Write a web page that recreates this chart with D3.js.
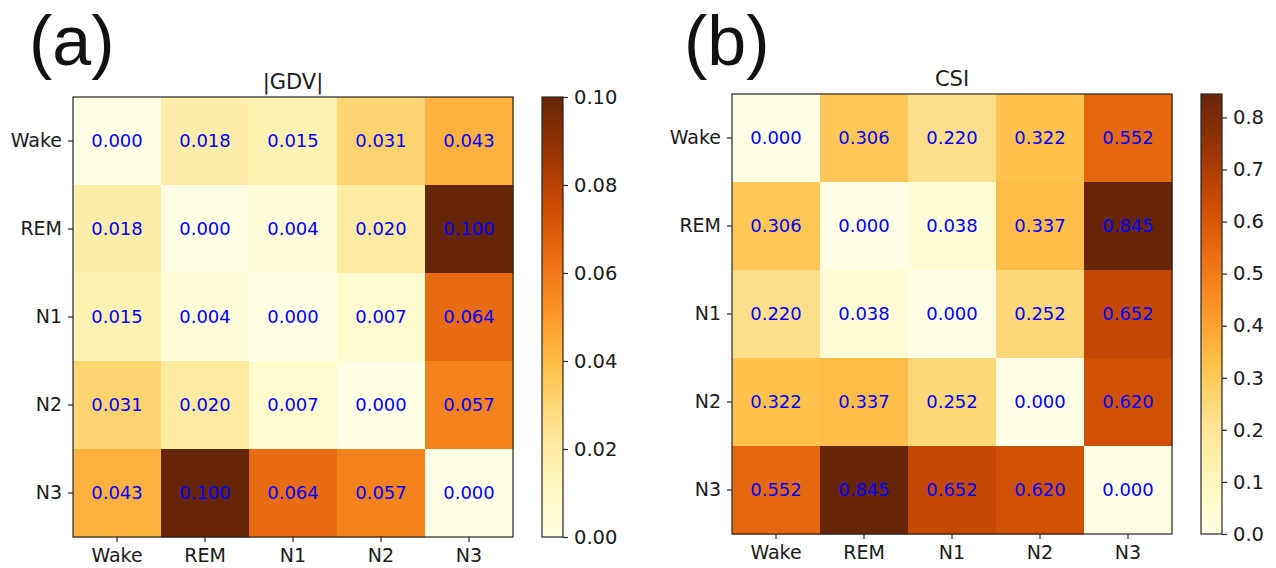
<!DOCTYPE html>
<html>
<head>
<meta charset="utf-8">
<script src="https://cdn.jsdelivr.net/npm/d3@7"></script>
<style>
  body { margin: 0; background: #fff; }
  text { font-family: "DejaVu Sans", sans-serif; }
</style>
</head>
<body>
<script>
var stages = ["Wake", "REM", "N1", "N2", "N3"];

var gdvValues = [
  [0.000, 0.018, 0.015, 0.031, 0.043],
  [0.018, 0.000, 0.004, 0.020, 0.100],
  [0.015, 0.004, 0.000, 0.007, 0.064],
  [0.031, 0.020, 0.007, 0.000, 0.057],
  [0.043, 0.100, 0.064, 0.057, 0.000]
];

var csiValues = [
  [0.000, 0.306, 0.220, 0.322, 0.552],
  [0.306, 0.000, 0.038, 0.337, 0.845],
  [0.220, 0.038, 0.000, 0.252, 0.652],
  [0.322, 0.337, 0.252, 0.000, 0.620],
  [0.552, 0.845, 0.652, 0.620, 0.000]
];

var gdvTicks = [0.00, 0.02, 0.04, 0.06, 0.08, 0.10];
var csiTicks = [0.0, 0.1, 0.2, 0.3, 0.4, 0.5, 0.6, 0.7, 0.8];

// matplotlib YlOrBr
var ylOrBr = ["#ffffe5", "#fff7bc", "#fee391", "#fec44f", "#fe9929",
              "#ec7014", "#cc4c02", "#993404", "#662506"];

var svg = d3.select("body").append("svg")
  .attr("width", 1276)
  .attr("height", 568);

function drawPanel(opts) {
  var g = svg.append("g");
  var x = d3.scaleBand().domain(stages).range([opts.left, opts.left + opts.size]);
  var y = d3.scaleBand().domain(stages).range([opts.top, opts.top + opts.size]);
  var vmax = opts.vmax;
  var color = d3.scaleLinear()
    .domain(ylOrBr.map(function(c, i) { return vmax * i / (ylOrBr.length - 1); }))
    .range(ylOrBr)
    .clamp(true);

  var cells = [];
  opts.values.forEach(function(row, i) {
    row.forEach(function(v, j) {
      cells.push({ row: stages[i], col: stages[j], v: v });
    });
  });

  g.selectAll("rect.cell").data(cells).enter().append("rect")
    .attr("class", "cell")
    .attr("x", function(d) { return x(d.col); })
    .attr("y", function(d) { return y(d.row); })
    .attr("width", x.bandwidth() + 0.5)
    .attr("height", y.bandwidth() + 0.5)
    .attr("fill", function(d) { return color(d.v); });

  g.selectAll("text.val").data(cells).enter().append("text")
    .attr("class", "val")
    .attr("x", function(d) { return x(d.col) + x.bandwidth() / 2; })
    .attr("y", function(d) { return y(d.row) + y.bandwidth() / 2; })
    .attr("dy", "0.36em")
    .attr("text-anchor", "middle")
    .attr("font-size", 18)
    .attr("fill", "#0000ff")
    .text(function(d) { return d.v.toFixed(3); });

  g.append("rect")
    .attr("x", opts.left).attr("y", opts.top)
    .attr("width", opts.size).attr("height", opts.size)
    .attr("fill", "none").attr("stroke", "#262626").attr("stroke-width", 1.2);

  var xAxis = g.append("g")
    .attr("transform", "translate(0," + (opts.top + opts.size) + ")")
    .call(d3.axisBottom(x).tickSize(5).tickPadding(7));
  var yAxis = g.append("g")
    .attr("transform", "translate(" + opts.left + ",0)")
    .call(d3.axisLeft(y).tickSize(5).tickPadding(6));
  [xAxis, yAxis].forEach(function(a) {
    a.select(".domain").remove();
    a.selectAll(".tick line").attr("stroke", "#262626").attr("stroke-width", 1.2);
    a.selectAll(".tick text").attr("font-size", 19).attr("fill", "#1a1a1a")
      .attr("font-family", "DejaVu Sans, sans-serif");
  });

  g.append("text")
    .attr("x", opts.left + opts.size / 2)
    .attr("y", opts.top - 8)
    .attr("text-anchor", "middle")
    .attr("font-size", 21)
    .attr("fill", "#1a1a1a")
    .text(opts.title);

  g.append("text")
    .attr("x", opts.labelX)
    .attr("y", 65)
    .attr("font-size", 70)
    .attr("fill", "#111")
    .style("font-family", "'Liberation Sans', Arial, sans-serif")
    .text(opts.label);

  // colorbar
  var cbX = opts.cbLeft, cbW = 21;
  var cy = d3.scaleLinear().domain([0, vmax]).range([opts.top + opts.size, opts.top]);
  var defs = svg.append("defs");
  var gradId = "grad" + opts.label.replace(/\W/g, "");
  var grad = defs.append("linearGradient").attr("id", gradId)
    .attr("x1", 0).attr("y1", 1).attr("x2", 0).attr("y2", 0);
  ylOrBr.forEach(function(c, i) {
    grad.append("stop").attr("offset", i / (ylOrBr.length - 1)).attr("stop-color", c);
  });
  g.append("rect")
    .attr("x", cbX).attr("y", opts.top)
    .attr("width", cbW).attr("height", opts.size)
    .attr("fill", "url(#" + gradId + ")")
    .attr("stroke", "#262626").attr("stroke-width", 1.2);

  var cbAxis = g.append("g")
    .attr("transform", "translate(" + (cbX + cbW) + ",0)")
    .call(d3.axisRight(cy).tickValues(opts.ticks).tickFormat(d3.format(opts.fmt))
      .tickSize(5).tickPadding(6));
  cbAxis.select(".domain").remove();
  cbAxis.selectAll(".tick line").attr("stroke", "#262626").attr("stroke-width", 1.2);
  cbAxis.selectAll(".tick text").attr("font-size", 19.5).attr("fill", "#1a1a1a")
    .attr("font-family", "DejaVu Sans, sans-serif");
}

drawPanel({
  values: gdvValues, vmax: 0.100, title: "|GDV|", label: "(a)", labelX: 29,
  left: 73, top: 97, size: 440, cbLeft: 542, ticks: gdvTicks, fmt: ".2f"
});

drawPanel({
  values: csiValues, vmax: 0.845, title: "CSI", label: "(b)", labelX: 684,
  left: 732, top: 94, size: 440, cbLeft: 1201, ticks: csiTicks, fmt: ".1f"
});
</script>
</body>
</html>
